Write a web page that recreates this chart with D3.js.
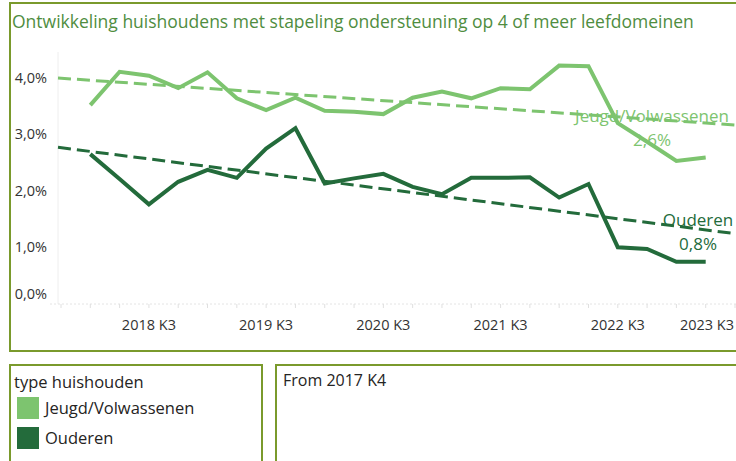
<!DOCTYPE html>
<html lang="nl">
<head>
    <meta charset="utf-8">
    <title>Stapeling ondersteuning</title>
    <script src="https://d3js.org/d3.v7.min.js"></script>
    <style>
        body{
            margin: 0;
            background: #fff;
        }
        svg text{
            font-family: "Open Sans", "Noto Sans", sans-serif;
        }
    </style>
</head>
<body>
    <div id="chart"></div>

    <script>
        // kwartalen op de as (eerste en laatste zonder waarde)
        var quarters = ["2017 K4",
            "2018 K1", "2018 K2", "2018 K3", "2018 K4",
            "2019 K1", "2019 K2", "2019 K3", "2019 K4",
            "2020 K1", "2020 K2", "2020 K3", "2020 K4",
            "2021 K1", "2021 K2", "2021 K3", "2021 K4",
            "2022 K1", "2022 K2", "2022 K3", "2022 K4",
            "2023 K1", "2023 K2", "2023 K3"];

        var jeugdValues = [null,
            3.52, 4.11, 4.04, 3.82, 4.10, 3.64, 3.43, 3.65, 3.42, 3.40, 3.36,
            3.65, 3.76, 3.64, 3.82, 3.80, 4.22, 4.21, 3.20, 2.87, 2.53, 2.59,
            null];
        var ouderenValues = [null,
            2.65, 2.21, 1.76, 2.16, 2.37, 2.23, 2.75, 3.11, 2.13, 2.22, 2.30,
            2.07, 1.94, 2.23, 2.23, 2.24, 1.88, 2.12, 1.00, 0.97, 0.74, 0.74,
            null];

        var tickLabels = ["2018 K3", "2019 K3", "2020 K3", "2021 K3", "2022 K3", "2023 K3"];
        var yTicks = [0, 1, 2, 3, 4];
        var seriesNames = ["Jeugd/Volwassenen", "Ouderen"];
        var endLabels = ["2,6%", "0,8%"];

        var colors = ["#7dc46f", "#236b3b"];
        var border = "#7a9a2c";

        var width = 736, height = 461;

        var svg = d3.select("#chart").append("svg")
            .attr("width", width)
            .attr("height", height);

        // panelen
        svg.append("rect").attr("x", 10).attr("y", 3).attr("width", 740).attr("height", 348)
            .attr("fill", "none").attr("stroke", border).attr("stroke-width", 2);
        svg.append("rect").attr("x", 10).attr("y", 365).attr("width", 252).attr("height", 110)
            .attr("fill", "none").attr("stroke", border).attr("stroke-width", 2);
        svg.append("rect").attr("x", 276).attr("y", 365).attr("width", 480).attr("height", 110)
            .attr("fill", "none").attr("stroke", border).attr("stroke-width", 2);

        svg.append("text")
            .attr("x", 12).attr("y", 28)
            .attr("fill", "#4f8d3f")
            .style("font-size", "17.5px")
            .text("Ontwikkeling huishoudens met stapeling ondersteuning op 4 of meer leefdomeinen");

        var x = d3.scalePoint().domain(quarters).range([61, 735]);
        var y = d3.scaleLinear().domain([0, 4]).range([303.6, 78]);

        // assen
        svg.append("line").attr("x1", 58).attr("x2", 58).attr("y1", 52).attr("y2", 304)
            .attr("stroke", "#eeeeee");
        svg.append("line").attr("x1", 50).attr("x2", 736).attr("y1", 304).attr("y2", 304)
            .attr("stroke", "#e4e4e4").attr("stroke-dasharray", "2,2");
        svg.append("g").selectAll("line")
            .data(quarters)
            .enter().append("line")
            .attr("x1", d => x(d)).attr("x2", d => x(d))
            .attr("y1", 304).attr("y2", 308)
            .attr("stroke", "#e0e0e0");

        svg.append("g").selectAll("text")
            .data(yTicks)
            .enter().append("text")
            .attr("x", 47)
            .attr("y", d => d === 0 ? y(d) - 10 : y(d))
            .attr("dy", "0.35em")
            .attr("text-anchor", "end")
            .attr("fill", "#333")
            .style("font-size", "14.5px")
            .text(d => d3.format(".1f")(d).replace(".", ",") + "%");

        svg.append("g").selectAll("text")
            .data(tickLabels)
            .enter().append("text")
            .attr("x", (d, i) => i === tickLabels.length - 1 ? 734 : x(d))
            .attr("y", 325)
            .attr("dy", "0.35em")
            .attr("text-anchor", (d, i) => i === tickLabels.length - 1 ? "end" : "middle")
            .attr("fill", "#333")
            .style("font-size", "14.5px")
            .text(d => d);

        // trendlijnen (lineaire regressie)
        function trend(values) {
            var pts = [];
            values.forEach(function(v, i) { if (v != null) pts.push([x(quarters[i]), v]); });
            var mx = d3.mean(pts, p => p[0]), my = d3.mean(pts, p => p[1]);
            var slope = d3.sum(pts, p => (p[0] - mx) * (p[1] - my)) / d3.sum(pts, p => (p[0] - mx) * (p[0] - mx));
            return function(px) { return my + slope * (px - mx); };
        }

        [jeugdValues, ouderenValues].forEach(function(vals, k) {
            var f = trend(vals);
            svg.append("line")
                .attr("x1", 58).attr("y1", y(f(58)))
                .attr("x2", 736).attr("y2", y(f(736)))
                .attr("stroke", colors[k])
                .attr("stroke-width", 3)
                .attr("stroke-dasharray", "13,6");
        });

        var line = d3.line()
            .defined(d => d[1] != null)
            .x(d => x(d[0]))
            .y(d => y(d[1]));

        [jeugdValues, ouderenValues].forEach(function(vals, k) {
            svg.append("path")
                .datum(quarters.map((q, i) => [q, vals[i]]))
                .attr("d", line)
                .attr("fill", "none")
                .attr("stroke", colors[k])
                .attr("stroke-width", 4)
                .attr("stroke-linejoin", "miter");
        });

        // labels aan het eind
        var labelPos = [[652, 116], [698, 220]];
        seriesNames.forEach(function(name, k) {
            var t = svg.append("text")
                .attr("text-anchor", "middle")
                .attr("fill", colors[k])
                .style("font-size", "17px");
            t.append("tspan").attr("x", labelPos[k][0]).attr("y", labelPos[k][1]).attr("dy", "0.35em").text(name);
            t.append("tspan").attr("x", labelPos[k][0]).attr("y", labelPos[k][1] + 24).attr("dy", "0.35em").text(endLabels[k]);
        });

        // legenda
        svg.append("text").attr("x", 14).attr("y", 382).attr("dy", "0.35em")
            .attr("fill", "#252423").style("font-size", "16.5px").text("type huishouden");

        var legend = svg.append("g").selectAll("g")
            .data(seriesNames)
            .enter().append("g")
            .attr("transform", (d, i) => "translate(17," + (397 + i * 30) + ")");
        legend.append("rect").attr("width", 22).attr("height", 22).attr("fill", (d, i) => colors[i]);
        legend.append("text").attr("x", 28).attr("y", 11).attr("dy", "0.35em")
            .attr("fill", "#252423").style("font-size", "16.5px").text(d => d);

        svg.append("text").attr("x", 283).attr("y", 380).attr("dy", "0.35em")
            .attr("fill", "#252423").style("font-size", "16px").text("From 2017 K4");
    </script>
</body>
</html>
